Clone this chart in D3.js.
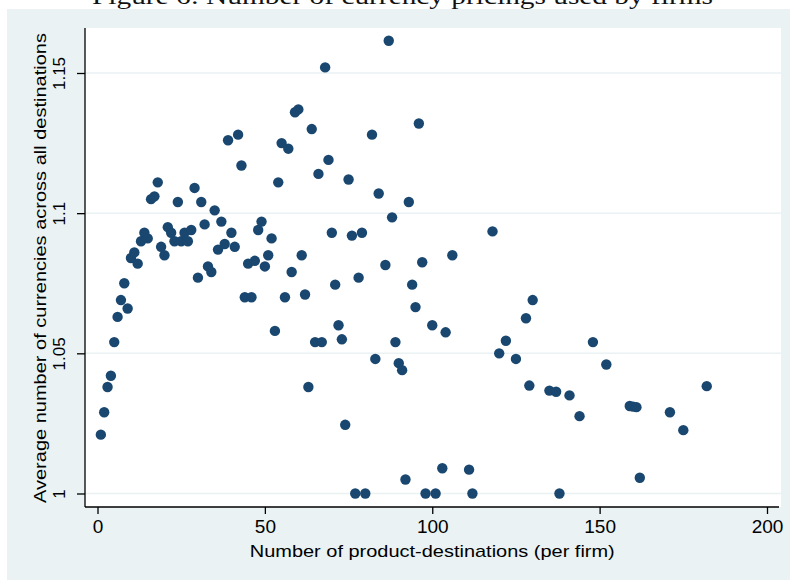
<!DOCTYPE html>
<html>
<head>
<meta charset="utf-8">
<script src="https://cdnjs.cloudflare.com/ajax/libs/d3/7.8.5/d3.min.js"></script>
<style>
  body { margin: 0; background: #ffffff; }
  svg { display: block; }
</style>
</head>
<body>
<div id="chart"></div>
<script>
// firm-level points: product-destinations vs avg number of currencies
var prodDest = [1, 2, 3, 4, 5, 6, 7, 8, 9, 10, 11, 12, 13, 14, 15, 16, 17, 18, 19, 20,
  21, 22, 23, 24, 25, 26, 27, 28, 29, 30, 31, 32, 33, 34, 35, 36, 37, 38, 39, 40,
  41, 42, 43, 44, 45, 46, 47, 48, 49, 50, 51, 52, 53, 54, 55, 56, 57, 58, 59, 60,
  61, 62, 63, 64, 65, 66, 67, 68, 69, 70, 71, 72, 73, 74, 75, 76, 77, 78, 79, 80,
  82, 83, 84, 86, 87, 88, 89, 90, 91, 92, 93, 94, 95, 96, 97, 98, 100, 101, 103, 104,
  106, 111, 112, 118, 120, 122, 125, 128, 129, 130, 135, 137, 138, 141, 144, 148, 152, 159, 160, 161,
  162, 171, 175, 182];
var avgCurr = [1.021, 1.029, 1.038, 1.042, 1.054, 1.063, 1.069, 1.075, 1.066, 1.084,
  1.086, 1.082, 1.090, 1.093, 1.091, 1.105, 1.106, 1.111, 1.088, 1.085,
  1.095, 1.093, 1.090, 1.104, 1.090, 1.093, 1.090, 1.094, 1.109, 1.077,
  1.104, 1.096, 1.081, 1.079, 1.101, 1.087, 1.097, 1.089, 1.126, 1.093,
  1.088, 1.128, 1.117, 1.070, 1.082, 1.070, 1.083, 1.094, 1.097, 1.081,
  1.085, 1.091, 1.058, 1.111, 1.125, 1.070, 1.123, 1.079, 1.136, 1.137,
  1.085, 1.071, 1.038, 1.130, 1.054, 1.114, 1.054, 1.152, 1.119, 1.093,
  1.0745, 1.060, 1.055, 1.0245, 1.112, 1.092, 1.000, 1.077, 1.093, 1.000,
  1.128, 1.048, 1.107, 1.0815, 1.1615, 1.0985, 1.054, 1.0465, 1.044, 1.005,
  1.104, 1.0745, 1.0665, 1.132, 1.0825, 1.000, 1.060, 1.000, 1.009, 1.0575,
  1.085, 1.0085, 1.000, 1.0935, 1.050, 1.0545, 1.048, 1.0625, 1.0385, 1.069,
  1.0367, 1.0363, 1.000, 1.035, 1.0276, 1.054, 1.046, 1.0312, 1.031, 1.0308,
  1.0056, 1.029, 1.0226, 1.0383];

var xTicks = [0, 50, 100, 150, 200];
var yTicks = [1, 1.05, 1.1, 1.15];
var yTickLabels = ["1", "1.05", "1.1", "1.15"];

var title = "Figure 6:  Number of currency pricings used by firms";
var xTitle = "Number of product-destinations (per firm)";
var yTitle = "Average number of currencies across all destinations";

var width = 790, height = 580;
var bgColour = "#eaf2f3";
var dotColour = "#1a476f";
var font = "'Liberation Sans', Arial, Helvetica, sans-serif";

// plot region (white box)
var plot = {left: 85, right: 781, top: 28, bottom: 507};

var svg = d3.select("#chart").append("svg")
  .attr("width", width)
  .attr("height", height);

// outer graph background
svg.append("rect")
  .attr("x", 7)
  .attr("y", 9)
  .attr("width", width - 7)
  .attr("height", height - 9)
  .attr("fill", bgColour);

// caption from the paper, cut off at the top
svg.append("text")
  .attr("x", 92)
  .attr("y", 4)
  .attr("textLength", 621)
  .attr("lengthAdjust", "spacingAndGlyphs")
  .style("font-family", "'Liberation Serif', 'DejaVu Serif', serif")
  .style("font-size", "23px")
  .style("fill", "#111")
  .text(title);

svg.append("rect")
  .attr("x", plot.left)
  .attr("y", plot.top)
  .attr("width", plot.right - plot.left)
  .attr("height", plot.bottom - plot.top)
  .attr("fill", "#ffffff");

//scales
var x = d3.scaleLinear()
  .domain([0, 200])
  .range([97.5, 767]);
var y = d3.scaleLinear()
  .domain([1, 1.15])
  .range([493.5, 73]);

// gridlines
svg.append("g")
  .attr("class", "grid")
  .selectAll("line")
  .data(yTicks)
  .enter()
  .append("line")
  .attr("x1", plot.left)
  .attr("x2", plot.right)
  .attr("y1", function (d) { return y(d); })
  .attr("y2", function (d) { return y(d); })
  .style("stroke", bgColour)
  .style("stroke-width", "1.5px");

// y axis
var yAxis = d3.axisLeft(y)
  .tickValues(yTicks)
  .tickSize(8)
  .tickPadding(0)
  .tickFormat(function (d, i) { return yTickLabels[i]; });

var gy = svg.append("g")
  .attr("class", "y axis")
  .attr("transform", "translate(" + plot.left + ",0)")
  .call(yAxis);

gy.select(".domain")
  .attr("d", "M0," + plot.top + "V" + plot.bottom)
  .style("stroke", "#000")
  .style("stroke-width", "1.3px");
gy.selectAll(".tick line")
  .style("stroke", "#000")
  .style("stroke-width", "1.3px");
gy.selectAll(".tick text")
  .attr("x", null)
  .attr("dy", null)
  .attr("transform", "translate(-20,0) rotate(-90)")
  .attr("text-anchor", "middle")
  .style("font-family", font)
  .style("font-size", "17px")
  .style("fill", "#000");

// x axis
var xAxis = d3.axisBottom(x)
  .tickValues(xTicks)
  .tickSize(7)
  .tickPadding(6)
  .tickFormat(d3.format("d"));

var gx = svg.append("g")
  .attr("class", "x axis")
  .attr("transform", "translate(0," + plot.bottom + ")")
  .call(xAxis);

gx.select(".domain")
  .attr("d", "M" + plot.left + ",0H" + (plot.right - 2))
  .style("stroke", "#000")
  .style("stroke-width", "1.3px");
gx.selectAll(".tick line")
  .style("stroke", "#000")
  .style("stroke-width", "1.3px");
gx.selectAll(".tick text")
  .style("font-family", font)
  .style("font-size", "19px")
  .style("fill", "#000");

// axis titles
svg.append("text")
  .attr("x", (x(0) + x(200)) / 2)
  .attr("y", 557)
  .attr("text-anchor", "middle")
  .attr("textLength", 365)
  .attr("lengthAdjust", "spacingAndGlyphs")
  .style("font-family", font)
  .style("font-size", "17px")
  .text(xTitle);

svg.append("text")
  .attr("transform", "translate(46," + ((33 + 503) / 2) + ") rotate(-90)")
  .attr("text-anchor", "middle")
  .attr("textLength", 470)
  .attr("lengthAdjust", "spacingAndGlyphs")
  .style("font-family", font)
  .style("font-size", "17px")
  .text(yTitle);

// the points
svg.append("g")
  .attr("class", "dots")
  .selectAll("circle")
  .data(prodDest)
  .enter()
  .append("circle")
  .attr("cx", function (d) { return x(d); })
  .attr("cy", function (d, i) { return y(avgCurr[i]); })
  .attr("r", 5.2)
  .style("fill", dotColour);
</script>
</body>
</html>
